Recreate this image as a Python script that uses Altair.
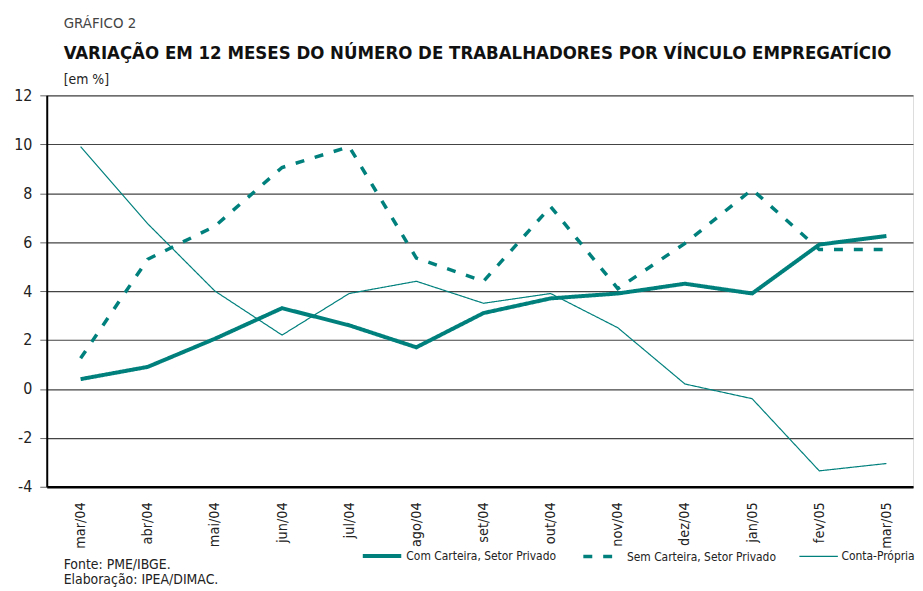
import altair as alt
import pandas as pd

months = ["mar/04", "abr/04", "mai/04", "jun/04", "jul/04", "ago/04", "set/04",
          "out/04", "nov/04", "dez/04", "jan/05", "fev/05", "mar/05"]
com_carteira = [0.4, 0.9, 2.05, 3.3, 2.6, 1.7, 3.1, 3.7, 3.9, 4.3, 3.9, 5.9, 6.25]
sem_carteira = [1.25, 5.3, 6.65, 9.05, 9.9, 5.35, 4.4, 7.45, 4.1, 5.95, 8.15, 5.7, 5.7]
conta_propria = [9.9, 6.75, 4.0, 2.2, 3.9, 4.4, 3.5, 3.9, 2.5, 0.2, -0.4, -3.35, -3.05]
series_names = ["Com Carteira, Setor Privado", "Sem Carteira, Setor Privado", "Conta-Própria"]
y_ticks = [-4, -2, 0, 2, 4, 6, 8, 10, 12]

FONT = "'Liberation Sans Narrow', 'DejaVu Sans Condensed', 'Roboto Condensed', sans-serif"
TEAL = "#00807d"
W, H = 872, 394

rows = []
for name, vals in zip(series_names, [com_carteira, sem_carteira, conta_propria]):
    for m, v in zip(months, vals):
        rows.append({"mes": m, "valor": v, "serie": name})
df = pd.DataFrame(rows)

lines = alt.Chart(df).mark_line().encode(
    x=alt.X("mes:N", sort=months,
            scale=alt.Scale(type="point", padding=0.45, align=0.56),
            axis=alt.Axis(title=None, labelAngle=270, labelFont=FONT, labelFontSize=14.5,
                          labelColor="#222", ticks=False, domainColor="#000",
                          domainWidth=2.5, labelPadding=15, grid=False)),
    y=alt.Y("valor:Q", scale=alt.Scale(domain=[-4, 12], nice=False, zero=False),
            axis=alt.Axis(title=None, values=y_ticks, labelFont=FONT, labelFontSize=16,
                          labelColor="#222", tickColor="#666", tickSize=7,
                          labelPadding=8, domainColor="#000", domainWidth=2,
                          gridColor="#444", gridWidth=1.2,
                          labelExpr="toString(datum.value)")),
    color=alt.Color("serie:N", sort=series_names,
                    scale=alt.Scale(domain=series_names, range=[TEAL, TEAL, TEAL]),
                    legend=alt.Legend(title=None, orient="none", direction="horizontal",
                                      legendX=316, legendY=442, symbolType="stroke",
                                      symbolSize=1500, labelFont=FONT, labelFontSize=12,
                                      labelColor="#222", columnPadding=20, labelOffset=3,
                                      labelLimit=0)),
    strokeDash=alt.StrokeDash("serie:N", sort=series_names,
                              scale=alt.Scale(domain=series_names,
                                              range=[[1, 0], [9, 11], [1, 0]]),
                              legend=None),
    strokeWidth=alt.StrokeWidth("serie:N", sort=series_names,
                                scale=alt.Scale(type="ordinal", domain=series_names,
                                                range=[4, 3.5, 1.2]),
                                legend=None),
)

def label(text, x, y, size, weight="normal", color="#222"):
    return alt.Chart(pd.DataFrame({"t": [text]})).mark_text(
        align="left", baseline="alphabetic", font=FONT, fontSize=size,
        fontWeight=weight, color=color
    ).encode(text="t:N", x=alt.value(x), y=alt.value(y))

titles = [
    label("GRÁFICO 2", 17, -68, 15, color="#444"),
    label("VARIAÇÃO EM 12 MESES DO NÚMERO DE TRABALHADORES POR VÍNCULO EMPREGATÍCIO", 17, -37, 18.6, weight="bold", color="#111"),
    label("[em %]", 17, -11, 14),
    label("Fonte: PME/IBGE.", 17, 477, 14),
    label("Elaboração: IPEA/DIMAC.", 17, 492, 14),
]

chart = alt.layer(lines, *titles).properties(
    width=W, height=H, padding={"left": 5, "top": 6, "right": 0, "bottom": 0}
).configure_view(stroke=None).configure(background="white")

chart.save("out.html", embed_options={"renderer": "svg", "actions": False})
